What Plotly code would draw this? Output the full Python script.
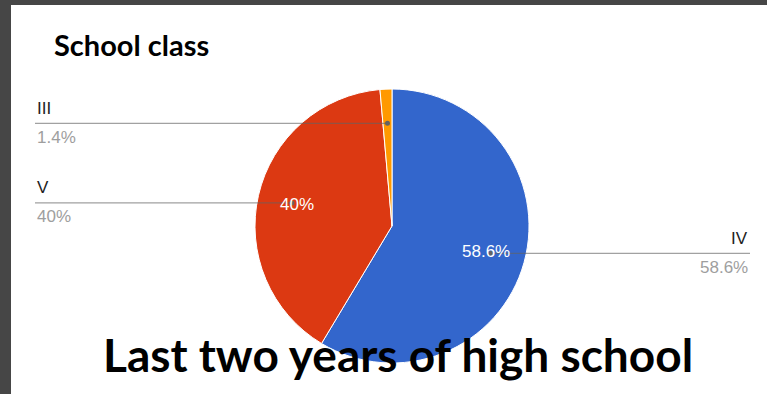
import numpy as np
import plotly.graph_objects as go

# ---- data ----
labels = ["IV", "V", "III"]
values = [58.6, 40.0, 1.4]
pct_text = ["58.6%", "40%", "1.4%"]
colors = ["#3366CC", "#DC3912", "#FF9900"]
show_inside = [True, True, False]
label_side = ["right", "left", "left"]
title_text = "School class"
caption_text = "Last two years of high school"

# ---- layout geometry (pixels) ----
W, H = 767, 394
cx, cy, R = 392, 226, 137
DOT_R = 0.75
TXT_R = 0.71
LEFT_X, RIGHT_X = 35, 750


def px(x):
    return x / W


def py(y):
    return 1 - y / H


fig = go.Figure()
fig.add_trace(go.Pie(
    labels=labels, values=values, sort=False, direction="clockwise", rotation=0,
    marker=dict(colors=colors, line=dict(color="white", width=1)),
    textinfo="none", hoverinfo="label+percent", showlegend=False,
    domain=dict(x=[px(cx - R), px(cx + R)], y=[py(cy + R), py(cy - R)]),
))

shapes = [
    dict(type="rect", xref="paper", yref="paper", x0=0, x1=1, y0=py(5), y1=1,
         fillcolor="#464646", line_width=0, layer="above"),
    dict(type="rect", xref="paper", yref="paper", x0=0, x1=px(11), y0=0, y1=1,
         fillcolor="#464646", line_width=0, layer="above"),
]
annotations = []

total = sum(values)
cum = np.cumsum(values)
lab_font = dict(family="Liberation Sans, Arial", size=17)
for i, v in enumerate(values):
    mid = (cum[i] - v / 2) / total * 2 * np.pi
    dx, dy = np.sin(mid), -np.cos(mid)
    dot_x, dot_y = cx + DOT_R * R * dx, cy + DOT_R * R * dy
    if show_inside[i]:
        annotations.append(dict(
            xref="paper", yref="paper", x=px(cx + TXT_R * R * dx), y=py(cy + TXT_R * R * dy),
            text=pct_text[i], showarrow=False, xanchor="center", yanchor="middle",
            font=dict(lab_font, color="white")))
    if label_side[i] == "left":
        x0, x1, anc, tx = LEFT_X, dot_x, "left", LEFT_X
    else:
        x0, x1, anc, tx = dot_x, RIGHT_X, "right", RIGHT_X
    shapes.append(dict(type="line", xref="paper", yref="paper",
                       x0=px(x0), x1=px(x1), y0=py(dot_y), y1=py(dot_y),
                       line=dict(color="#636363", width=1.3), opacity=0.6, layer="above"))
    shapes.append(dict(type="circle", xref="paper", yref="paper",
                       x0=px(dot_x - 2.5), x1=px(dot_x + 2.5), y0=py(dot_y + 2.5), y1=py(dot_y - 2.5),
                       fillcolor="#636363", line_width=0, layer="above"))
    annotations.append(dict(xref="paper", yref="paper", x=px(tx), y=py(dot_y - 15),
                            text=labels[i], showarrow=False, xanchor=anc, yanchor="middle",
                            font=dict(lab_font, color="#222222")))
    annotations.append(dict(xref="paper", yref="paper", x=px(tx), y=py(dot_y + 14),
                            text=pct_text[i], showarrow=False, xanchor=anc, yanchor="middle",
                            font=dict(lab_font, color="#9e9e9e")))

annotations.append(dict(xref="paper", yref="paper", x=px(52), y=py(45), text=title_text,
                        showarrow=False, xanchor="left", yanchor="middle",
                        font=dict(family="Lato", size=29, color="#000000", weight=700)))
annotations.append(dict(xref="paper", yref="paper", x=px(398), y=py(354), text=caption_text,
                        showarrow=False, xanchor="center", yanchor="middle",
                        font=dict(family="Lato", size=46, color="#000000", weight=700)))

fig.update_layout(width=W, height=H, margin=dict(l=0, r=0, t=0, b=0),
                  paper_bgcolor="white", shapes=shapes, annotations=annotations)
fig.write_html("out.html")
